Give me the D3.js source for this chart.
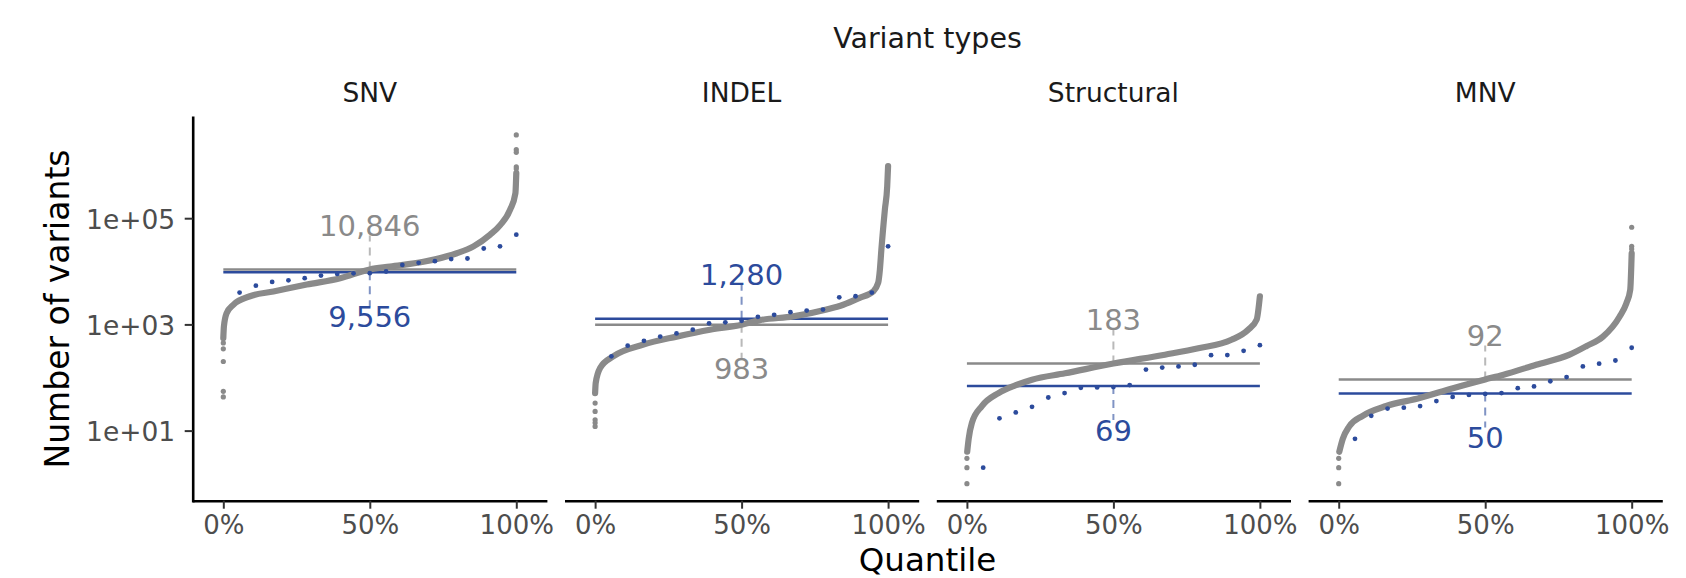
<!DOCTYPE html>
<html>
<head>
<meta charset="utf-8">
<script src="https://cdn.jsdelivr.net/npm/d3@7"></script>
<style>
  body { margin: 0; background: #fff; }
  text { font-family: "DejaVu Sans", sans-serif; }
</style>
</head>
<body>
<div id="chart"></div>
<script>
// facets
var panels = ["SNV", "INDEL", "Structural", "MNV"];

// axis ticks
var xTicks = [0, 0.5, 1];
var xTickLabels = ["0%", "50%", "100%"];
var yTicks = [10, 1000, 100000];
var yTickLabels = ["1e+01", "1e+03", "1e+05"];

// grey: all samples (quantile, count)
var snvGreyQ = [0, 0.002, 0.011, 0.034, 0.091, 0.171, 0.285, 0.399, 0.5, 0.569, 0.683, 0.797, 0.854, 0.911, 0.945, 0.979, 0.997, 1.0];
var snvGreyV = [550, 912, 1620, 2340, 3390, 4170, 5620, 7410, 10846, 12300, 15100, 21900, 29500, 49000, 74100, 144500, 295000, 708000];
var indelGreyQ = [0, 0.002, 0.017, 0.0625, 0.165, 0.278, 0.392, 0.5, 0.5625, 0.676, 0.790, 0.847, 0.903, 0.949, 0.966, 0.972, 0.977, 0.989, 0.997, 1.0];
var indelGreyV = [51, 79, 151, 251, 417, 589, 794, 983, 1202, 1413, 1905, 2344, 3162, 4169, 6026, 10715, 25119, 144544, 398107, 954993];
var structGreyQ = [0.001, 0.006, 0.017, 0.051, 0.108, 0.165, 0.222, 0.335, 0.5, 0.676, 0.790, 0.903, 0.960, 0.989, 1.0];
var structGreyV = [4, 7, 14, 29, 51, 71, 91, 120, 183, 269, 355, 513, 794, 1230, 3388];
var mnvGreyQ = [0.002, 0.014, 0.036, 0.082, 0.162, 0.276, 0.39, 0.5, 0.560, 0.674, 0.788, 0.845, 0.902, 0.959, 0.982, 0.995, 1.0];
var mnvGreyV = [4, 7, 12, 19, 29, 41, 63, 92, 112, 174, 269, 389, 589, 1413, 2512, 4467, 21878];

// grey points that stand apart at the two ends
var snvGreyLow = [447, 347, 200, 55, 43];
var snvGreyHigh = [3700000, 1950000, 1740000, 930000, 850000];
var indelGreyLow = [33, 23, 16, 14, 12];
var indelGreyHigh = [];
var structGreyLow = [3, 2, 1];
var structGreyHigh = [];
var mnvGreyLow = [3, 2, 1];
var mnvGreyHigh = [67600, 29500, 26300];

// blue: the 18 cohort samples, sorted
var snvBlue = [3980, 5370, 6310, 6760, 7410, 8320, 8910, 9150, 9200, 9912, 13200, 14450, 15500, 17000, 17400, 26900, 29500, 49000];
var indelBlue = [251, 398, 490, 589, 676, 795, 1047, 1096, 1170, 1390, 1514, 1698, 1820, 1905, 3236, 3388, 3981, 29500];
var structBlue = [2, 17, 22, 28, 42, 51, 64, 65, 66, 72, 141, 154, 162, 174, 263, 265, 318, 407];
var mnvBlue = [7, 19, 26, 27, 29, 36, 43, 47, 49, 51, 63, 68, 85, 102, 162, 182, 209, 363];

// medians shown as lines + labels
var greyMedian = [10846, 983, 183, 92];
var blueMedian = [9556, 1280, 69, 50];

var greyQ = [snvGreyQ, indelGreyQ, structGreyQ, mnvGreyQ];
var greyV = [snvGreyV, indelGreyV, structGreyV, mnvGreyV];
var greyLow = [snvGreyLow, indelGreyLow, structGreyLow, mnvGreyLow];
var greyHigh = [snvGreyHigh, indelGreyHigh, structGreyHigh, mnvGreyHigh];
var blueV = [snvBlue, indelBlue, structBlue, mnvBlue];

var GREY = "#8a8a8a", BLUE = "#2c4b9c";

var margin = { top: 117.3, left: 192.7 },
  panelW = 354.2, panelH = 383.4, panelGap = 17.6;

var svg = d3.select("#chart").append("svg")
  .attr("width", 1686)
  .attr("height", 578);

var x = d3.scaleLinear().domain([-0.1045, 1.1045]).range([0, panelW]);
var y = d3.scaleLog().domain([Math.pow(10, -0.32), Math.pow(10, 6.9)]).range([panelH, 0]);

var fmt = d3.format(",");

panels.forEach(function (name, i) {
  var g = svg.append("g")
    .attr("transform", "translate(" + (margin.left + i * (panelW + panelGap)) + "," + margin.top + ")");

  // strip label
  g.append("text")
    .attr("x", panelW / 2)
    .attr("y", 101.5 - margin.top)
    .attr("text-anchor", "middle")
    .style("font-size", "26.5px")
    .attr("fill", "#1a1a1a")
    .text(name);

  // median lines (under the points)
  var meds = [
    { v: greyMedian[i], c: GREY, up: greyMedian[i] >= blueMedian[i] },
    { v: blueMedian[i], c: BLUE, up: blueMedian[i] > greyMedian[i] }
  ];
  meds.forEach(function (m) {
    g.append("line")
      .attr("x1", x(0)).attr("x2", x(1))
      .attr("y1", y(m.v)).attr("y2", y(m.v))
      .attr("stroke", m.c)
      .attr("stroke-width", 2.5);
  });

  // grey curve: dense points, drawn as thick line
  var pts = greyQ[i].map(function (q, j) { return [q, greyV[i][j]]; });
  g.append("path")
    .datum(pts)
    .attr("fill", "none")
    .attr("stroke", GREY)
    .attr("stroke-width", 6.2)
    .attr("stroke-linecap", "round")
    .attr("stroke-linejoin", "round")
    .attr("d", d3.line()
      .x(function (d) { return x(d[0]); })
      .y(function (d) { return y(d[1]); })
      .curve(d3.curveMonotoneX));

  var ends = greyLow[i].map(function (v) { return [0, v]; })
    .concat(greyHigh[i].map(function (v) { return [1, v]; }));
  g.selectAll(".gout")
    .data(ends)
    .enter().append("circle")
    .attr("cx", function (d) { return x(d[0]); })
    .attr("cy", function (d) { return y(d[1]); })
    .attr("r", 2.6)
    .attr("fill", GREY);

  // blue points
  var n = blueV[i].length;
  g.selectAll(".blue")
    .data(blueV[i])
    .enter().append("circle")
    .attr("cx", function (d, j) { return x((j + 1) / n); })
    .attr("cy", function (d) { return y(d); })
    .attr("r", 2.4)
    .attr("fill", BLUE);

  // dashed ticks + median labels
  meds.forEach(function (m) {
    var y0 = y(m.v);
    var dir = m.up ? -1 : 1;
    g.append("line")
      .attr("x1", x(0.5)).attr("x2", x(0.5))
      .attr("y1", y0).attr("y2", y0 + dir * 34)
      .attr("stroke", m.c)
      .attr("stroke-opacity", 0.6)
      .attr("stroke-width", 2)
      .attr("stroke-dasharray", "8,6");
    g.append("text")
      .attr("x", x(0.5))
      .attr("y", m.up ? y0 - 33.5 : y0 + 54.5)
      .attr("text-anchor", "middle")
      .style("font-size", "29px")
      .attr("fill", m.c)
      .text(fmt(m.v));
  });

  // x axis
  var xa = g.append("g")
    .attr("transform", "translate(0," + panelH + ")")
    .call(d3.axisBottom(x)
      .tickValues(xTicks)
      .tickFormat(function (d, j) { return xTickLabels[j]; })
      .tickSize(8)
      .tickSizeOuter(0));
  xa.select(".domain").attr("stroke", "#000").attr("stroke-width", 2.6);
  xa.selectAll(".tick line").attr("stroke", "#333").attr("stroke-width", 2);
  xa.selectAll(".tick text")
    .attr("y", 33.5).attr("dy", null)
    .attr("fill", "#4d4d4d")
    .style("font-size", "26px")
    .style("font-family", "DejaVu Sans");

  // y axis on the first panel only
  if (i === 0) {
    var ya = g.append("g")
      .call(d3.axisLeft(y)
        .tickValues(yTicks)
        .tickFormat(function (d, j) { return yTickLabels[j]; })
        .tickSize(8)
        .tickSizeOuter(0));
    ya.select(".domain").attr("stroke", "#000").attr("stroke-width", 2.6)
      .attr("stroke-linecap", "square");
    ya.selectAll(".tick line").attr("stroke", "#333").attr("stroke-width", 2);
    ya.selectAll(".tick text")
      .attr("x", -17.5).attr("dy", "0.38em")
      .attr("fill", "#4d4d4d")
      .style("font-size", "26.5px")
      .style("font-family", "DejaVu Sans");
  }
});

var midX = margin.left + (4 * panelW + 3 * panelGap) / 2;

svg.append("text")
  .attr("x", midX)
  .attr("y", 48.3)
  .attr("text-anchor", "middle")
  .style("font-size", "28.5px")
  .attr("fill", "#1a1a1a")
  .text("Variant types");

svg.append("text")
  .attr("x", midX)
  .attr("y", 571)
  .attr("text-anchor", "middle")
  .style("font-size", "32.5px")
  .text("Quantile");

svg.append("text")
  .attr("transform", "translate(69," + (margin.top + panelH / 2) + ")rotate(-90)")
  .attr("text-anchor", "middle")
  .style("font-size", "33px")
  .text("Number of variants");
</script>
</body>
</html>
